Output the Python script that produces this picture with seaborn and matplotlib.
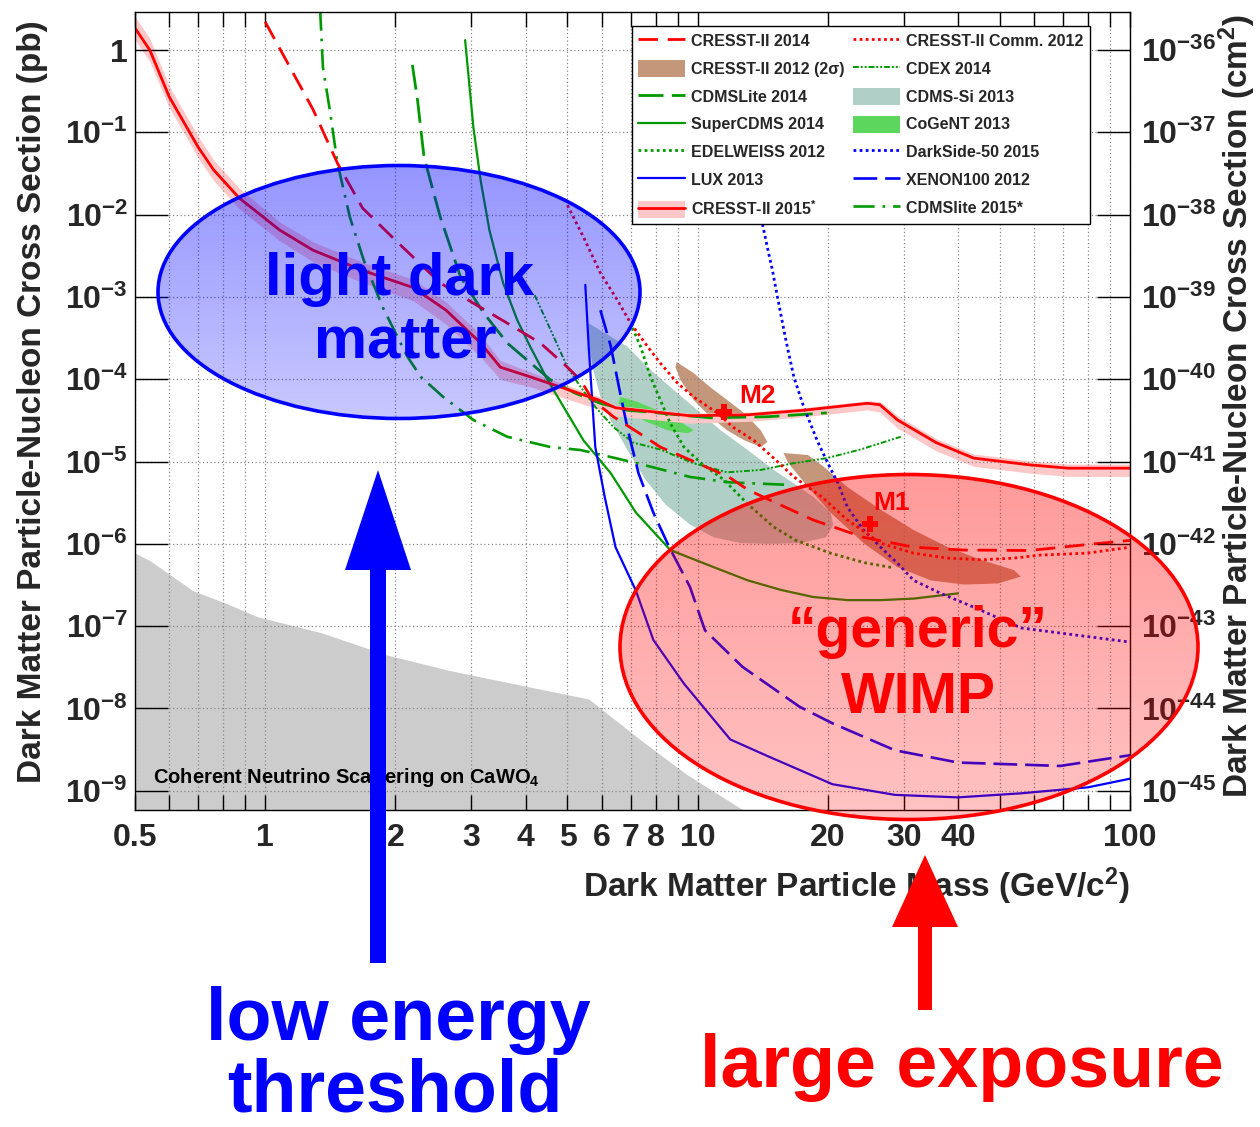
import numpy as np
import matplotlib
matplotlib.use("Agg")
import matplotlib.pyplot as plt
import seaborn as sns
from matplotlib.patches import Ellipse, FancyArrow, Patch
from matplotlib.lines import Line2D
from matplotlib.ticker import FixedLocator, FixedFormatter, NullFormatter

# ---- data (mass in GeV/c^2, cross section in pb) ----
cresst15_mass = [0.5, 0.541, 0.6, 0.7, 0.76, 0.87, 1.08, 1.29, 1.68, 2.2, 2.62, 3.14, 3.5, 4.1,
                 4.9, 5.9, 6.46, 9.6, 13.1, 17.6, 24.7, 26.4, 29, 35.6, 43.5, 58.7, 72, 100]
cresst15_sigma = [1.85, 1.0, 0.27, 0.066, 0.035, 0.016, 6.5e-3, 3.7e-3, 2.1e-3, 1.3e-3, 6.9e-4, 2.8e-4,
                  1.4e-4, 1.07e-4, 7.8e-5, 5.6e-5, 4.5e-5, 3.6e-5, 3.7e-5, 4.2e-5, 5.1e-5, 4.9e-5,
                  3.2e-5, 1.7e-5, 1.1e-5, 9.1e-6, 8.3e-6, 8.3e-6]
cresst15_band_up = [0.14, 0.14, 0.13, 0.13, 0.12, 0.12, 0.1, 0.1, 0.1, 0.1, 0.1, 0.1, 0.08, 0.06,
                    0.05, 0.04, 0.03, 0.03, 0.03, 0.03, 0.03, 0.04, 0.05, 0.05, 0.05, 0.05, 0.05, 0.05]
cresst15_band_lo = [0.14, 0.14, 0.13, 0.13, 0.13, 0.13, 0.13, 0.14, 0.15, 0.16, 0.17, 0.17, 0.15, 0.12,
                    0.12, 0.11, 0.10, 0.09, 0.08, 0.08, 0.08, 0.09, 0.1, 0.1, 0.1, 0.1, 0.1, 0.1]

cresst14_mass = [1.0, 1.29, 1.47, 1.68, 2.0, 2.54, 3.03, 3.63, 4.33, 5.0, 5.36, 5.72, 6.39, 7.34, 8.2,
                 9.6, 11.8, 13.1, 18.5, 24.2, 31.6, 41.3, 58.7, 79.5, 100]
cresst14_sigma = [2.2, 0.19, 0.042, 0.012, 4.9e-3, 1.48e-3, 8.4e-4, 4.8e-4, 2.75e-4, 1.4e-4, 9.8e-5,
                  5.6e-5, 3.5e-5, 2.2e-5, 1.5e-5, 1.05e-5, 6.5e-6, 4.5e-6, 1.95e-6, 1.2e-6, 9.1e-7,
                  8.4e-7, 8.3e-7, 9.8e-7, 1.1e-6]

comm12_mass = [5.0, 5.45, 5.96, 6.52, 7.0, 7.66, 8.2, 8.98, 9.79, 11.1, 12.1, 13.5, 15.0, 16.7, 19.4,
               22.2, 26.5, 31.6, 37.9, 45.2, 53.9, 62, 79.5, 100]
comm12_sigma = [0.013, 5.3e-3, 1.95e-3, 9.2e-4, 4.8e-4, 2.5e-4, 1.57e-4, 9e-5, 6.1e-5, 3.9e-5, 2.6e-5,
                1.8e-5, 1.1e-5, 6.5e-6, 3.7e-6, 1.95e-6, 1.02e-6, 7.7e-7, 6.7e-7, 6.4e-7, 6.7e-7,
                7.3e-7, 7.7e-7, 9.1e-7]

cdmslite14_mass = [2.19, 2.25, 2.33, 2.54, 2.83, 3.2, 3.63, 4.04, 4.57, 5.2, 5.96, 6.88, 8.08, 10.7,
                   14.5, 19.9]
cdmslite14_sigma = [0.66, 0.25, 0.05, 9.4e-3, 1.75e-3, 6.4e-4, 2.75e-4, 1.7e-4, 9.8e-5, 6.8e-5, 5.1e-5,
                    4.2e-5, 3.9e-5, 3.4e-5, 3.5e-5, 3.9e-5]

supercdms_mass = [2.9, 3.03, 3.15, 3.3, 3.55, 3.83, 4.1, 4.5, 4.9, 5.45, 6.3, 7.2, 8.65, 10.9, 13.06,
                  15.6, 18.5, 22.2, 26.5, 31.6, 40]
supercdms_sigma = [1.32, 0.116, 0.026, 6.5e-3, 1.48e-3, 5.2e-4, 2.5e-4, 9.8e-5, 4.6e-5, 1.8e-5, 7.2e-6,
                   2.4e-6, 8.4e-7, 5.2e-7, 3.6e-7, 2.75e-7, 2.26e-7, 2.07e-7, 2.07e-7, 2.16e-7, 2.5e-7]

cdmslite15_mass = [1.34, 1.36, 1.41, 1.47, 1.57, 1.69, 1.87, 2.13, 2.29, 2.58, 3.03, 3.63, 4.57, 5.36,
                   6.46, 7.9, 9.6, 11.8, 16.3]
cdmslite15_sigma = [3.1, 0.62, 0.19, 0.042, 9.3e-3, 2.8e-3, 7.5e-4, 1.9e-4, 1.07e-4, 6.1e-5, 3.2e-5,
                    2e-5, 1.5e-5, 1.38e-5, 1.1e-5, 8.5e-6, 6.5e-6, 5.6e-6, 5.2e-6]

edelweiss_mass = [7.07, 7.38, 7.78, 8.2, 8.65, 9.3, 10.2, 11.5, 13.1, 15.0, 16.9, 20.3, 24.3, 28.5]
edelweiss_sigma = [4.2e-4, 2.5e-4, 1.07e-4, 5.6e-5, 2.9e-5, 1.5e-5, 9.5e-6, 6e-6, 3e-6, 1.6e-6, 1.1e-6,
                   7.7e-7, 5.9e-7, 5.1e-7]

cdex_mass = [4.2, 4.57, 5.0, 5.36, 5.8, 6.4, 7.1, 8.2, 9.8, 11.7, 14.0, 16.6, 19.9, 23.8, 29.5]
cdex_sigma = [1.05e-3, 4e-4, 1.4e-4, 8.1e-5, 4.6e-5, 2.6e-5, 1.7e-5, 1.4e-5, 9.5e-6, 7.4e-6, 7.9e-6,
              9.5e-6, 1.1e-5, 1.4e-5, 2e-5]

lux_mass = [5.5, 5.6, 5.7, 5.8, 6.1, 6.46, 7.2, 7.9, 9.3, 11.9, 14.6, 20.5, 28.6, 40, 56, 80, 100]
lux_sigma = [1.4e-3, 2.5e-4, 6e-5, 1.5e-5, 3.7e-6, 9.1e-7, 2.7e-7, 6.8e-8, 2e-8, 4.2e-9, 2.6e-9, 1.2e-9,
             8.9e-10, 8.3e-10, 9.3e-10, 1.1e-9, 1.4e-9]

xenon_mass = [5.96, 6.3, 6.6, 6.9, 7.3, 7.9, 8.6, 9.6, 10.4, 12.7, 17.2, 20.5, 28.6, 40, 69, 100]
xenon_sigma = [6.9e-4, 2.5e-4, 7.4e-5, 2.4e-5, 7.2e-6, 2.4e-6, 9.1e-7, 3e-7, 8.9e-8, 3.2e-8, 1.05e-8,
               6.6e-9, 3.1e-9, 2.2e-9, 2e-9, 2.7e-9]

darkside_mass = [13.7, 14.1, 14.5, 14.9, 15.3, 16.0, 16.7, 17.6, 18.9, 20.0, 21.1, 22.2, 24.2, 26.5,
                 29.0, 31.6, 36.5, 43.5, 56, 100]
darkside_sigma = [0.05, 8.1e-3, 4.0e-3, 2.1e-3, 1e-3, 3.0e-4, 1.06e-4, 4.6e-5, 1.8e-5, 9.6e-6, 5.5e-6,
                  2.8e-6, 1.47e-6, 9.1e-7, 5.8e-7, 3.6e-7, 2.5e-7, 1.7e-7, 9.5e-8, 6.4e-8]

# contours of the allowed regions
cdmssi_mass = [5.59, 6.29, 6.88, 7.66, 8.66, 9.79, 11.3, 13.06, 15.0, 16.9, 18.55, 20.3, 20.6,
               19.8, 17.3, 14.75, 12.6, 10.9, 9.63, 8.43, 7.58, 6.88, 6.29, 5.96, 5.74, 5.59]
cdmssi_sigma = [4.8e-4, 3.3e-4, 2.5e-4, 1.4e-4, 8.0e-5, 4.6e-5, 2.4e-5, 1.38e-5, 7.9e-6, 5.2e-6, 3.7e-6,
                2.4e-6, 1.7e-6, 1.2e-6, 1.02e-6, 1.0e-6, 1.02e-6, 1.2e-6, 1.7e-6, 3.0e-6, 6.0e-6,
                1.38e-5, 3.2e-5, 6.1e-5, 1.3e-4, 3.0e-4]

cogent_mass = [6.63, 7.26, 8.08, 8.98, 9.79, 9.48, 8.52, 7.66, 6.88, 6.56]
cogent_sigma = [6.1e-5, 5.3e-5, 4.2e-5, 3.2e-5, 2.4e-5, 2.2e-5, 2.4e-5, 3.0e-5, 4.0e-5, 5.1e-5]

m2_blob_mass = [8.94, 9.79, 10.7, 11.7, 12.8, 14.0, 14.5, 14.0, 12.8, 11.7, 10.7, 9.79, 9.13, 8.89]
m2_blob_sigma = [1.62e-4, 1.19e-4, 8.0e-5, 5.6e-5, 3.9e-5, 2.4e-5, 1.73e-5, 1.5e-5, 1.82e-5, 2.4e-5,
                 3.5e-5, 5.6e-5, 9.8e-5, 1.4e-4]

m1_blob_mass = [15.8, 18.0, 19.6, 22.2, 26.5, 31.6, 37.9, 45.2, 53.9, 55.9, 49.5, 41.3, 34.6, 29.0,
                24.2, 20.3, 18.0, 16.2]
m1_blob_sigma = [1.27e-5, 1.2e-5, 8.6e-6, 4.9e-6, 2.6e-6, 1.47e-6, 9.1e-7, 6.4e-7, 4.8e-7, 4.0e-7,
                 3.3e-7, 3.2e-7, 3.6e-7, 5.2e-7, 1.02e-6, 2.4e-6, 4.9e-6, 9.6e-6]

best_fit_mass = [25.1, 11.5]
best_fit_sigma = [1.74e-6, 4.0e-5]
best_fit_names = ["M1", "M2"]

nu_mass = [0.5, 0.54, 0.68, 0.81, 0.96, 1.35, 1.9, 2.66, 3.75, 5.6, 7.4, 9.4, 12.7, 14.0]
nu_sigma = [7.7e-7, 6.3e-7, 2.7e-7, 1.9e-7, 1.3e-7, 8.3e-8, 4.5e-8, 2.9e-8, 2.0e-8, 1.3e-8, 4.1e-9,
            1.6e-9, 5.9e-10, 4e-10]

x_ticks = [0.5, 1, 2, 3, 4, 5, 6, 7, 8, 10, 20, 30, 40, 100]
x_tick_labels = ["0.5", "1", "2", "3", "4", "5", "6", "7", "8", "10", "20", "30", "40", "100"]
x_minor = [0.6, 0.7, 0.8, 0.9, 9, 50, 60, 70, 80, 90]
y_exponents = [0, -1, -2, -3, -4, -5, -6, -7, -8, -9]
y_exponents_cm = [-36, -37, -38, -39, -40, -41, -42, -43, -44, -45]

# ---- colours ----
RED = "#ff0000"
GREEN = "#009900"
BLUE = "#0000ff"
PINK = "#ffc8c8"
BROWN = "#c4967a"
TEAL = "#b0cfc6"
COGENT = "#5cd65c"

sns.set_theme(style="ticks")
plt.rcParams["font.family"] = ["Liberation Sans", "DejaVu Sans"]
plt.rcParams["font.weight"] = "bold"
plt.rcParams["mathtext.fontset"] = "custom"
plt.rcParams["mathtext.rm"] = "Liberation Sans:bold"
plt.rcParams["mathtext.bf"] = "Liberation Sans:bold"
plt.rcParams["mathtext.it"] = "Liberation Sans:bold"

W, H = 1260, 1127
fig = plt.figure(figsize=(W / 100, H / 100), dpi=100)
fig.patch.set_facecolor("white")


def fx(px):
    return px / W


def fy(py):
    return 1 - py / H


ax = fig.add_axes([fx(135), fy(810), (1130 - 135) / W, (810 - 12) / H])
ax.set_xscale("log")
ax.set_yscale("log")
ax.set_xlim(0.5, 100)
ax.set_ylim(5.83e-10, 2.9)
ax.set_facecolor("white")

# neutrino floor
ax.fill_between(nu_mass, nu_sigma, 1e-12, color="#cccccc", lw=0, zorder=1)

# allowed regions
ax.fill(cdmssi_mass, cdmssi_sigma, color=TEAL, lw=0, zorder=1.1)
ax.fill(cogent_mass, cogent_sigma, color=COGENT, lw=0, zorder=1.2)
ax.fill(m2_blob_mass, m2_blob_sigma, color=BROWN, lw=0, zorder=1.2)
ax.fill(m1_blob_mass, m1_blob_sigma, color=BROWN, lw=0, zorder=1.2)

# CRESST-II 2015 band
c15_s = np.array(cresst15_sigma)
ax.fill_between(cresst15_mass, c15_s * 10 ** np.array(cresst15_band_up),
                c15_s / 10 ** np.array(cresst15_band_lo), color=PINK, lw=0, zorder=1.3)


def curve(m, s, color, ls, lw=1.9):
    sns.lineplot(x=m, y=s, ax=ax, color=color, linestyle=ls, linewidth=lw,
                 sort=False, estimator=None, errorbar=None, legend=False, zorder=3)


DASH = (0, (7, 3.5))
LDASH = (0, (9, 3))
DOT = (0, (1, 1.2))
DASHDOT = (0, (8, 3, 1, 3))
DDOT = (0, (3, 1, 1, 1, 1, 1))

curve(edelweiss_mass, edelweiss_sigma, GREEN, DOT, 2.0)
curve(cdex_mass, cdex_sigma, GREEN, DDOT, 1.4)
curve(cdmslite15_mass, cdmslite15_sigma, GREEN, DASHDOT, 1.9)
curve(cdmslite14_mass, cdmslite14_sigma, GREEN, LDASH, 2.0)
curve(supercdms_mass, supercdms_sigma, GREEN, "-", 1.6)
curve(darkside_mass, darkside_sigma, BLUE, DOT, 2.0)
curve(xenon_mass, xenon_sigma, BLUE, LDASH, 1.9)
curve(lux_mass, lux_sigma, BLUE, "-", 1.6)
curve(comm12_mass, comm12_sigma, RED, DOT, 2.0)
curve(cresst14_mass, cresst14_sigma, RED, DASH, 2.0)
curve(cresst15_mass, cresst15_sigma, RED, "-", 2.0)

# best fit points
ax.plot(best_fit_mass, best_fit_sigma, linestyle="none", marker="P", ms=11,
        color=RED, mec=RED, mew=0, zorder=4)
label_offsets = [(2, 10), (11, 6.5)]
for m, s, name, off in zip(best_fit_mass, best_fit_sigma, best_fit_names, label_offsets):
    ax.annotate(name, (m, s), xytext=off, textcoords="offset points",
                color=RED, fontsize=19, fontweight="bold", zorder=4)

ax.text(0.018, 0.034, r"Coherent Neutrino Scattering on CaWO$_4$", transform=ax.transAxes,
        fontsize=14.5, fontweight="bold", color="black", zorder=4)

# axes, ticks, grid
ax.xaxis.set_major_locator(FixedLocator(x_ticks))
ax.xaxis.set_major_formatter(FixedFormatter(x_tick_labels))
ax.xaxis.set_minor_locator(FixedLocator(x_minor))
ax.xaxis.set_minor_formatter(NullFormatter())
ax.yaxis.set_major_locator(FixedLocator([10.0 ** e for e in y_exponents]))
ax.yaxis.set_major_formatter(FixedFormatter(
    ["1" if e == 0 else r"$10^{%d}$" % e for e in y_exponents]))
ax.yaxis.set_minor_formatter(NullFormatter())

ax.tick_params(axis="x", which="both", direction="in", top=True, length=11, width=1,
               labelsize=23, pad=9, color="black")
ax.tick_params(axis="y", which="major", direction="in", length=24, width=1,
               labelsize=23, pad=5, color="black")
ax.tick_params(axis="y", which="minor", direction="in", length=12, width=0.8, color="black")
for lab in ax.get_xticklabels() + ax.get_yticklabels():
    lab.set_fontweight("bold")

ax.set_axisbelow("line")
ax.grid(True, which="both", axis="x", linestyle=(0, (1, 2)), color="#888888", lw=0.9)
ax.grid(True, which="major", axis="y", linestyle=(0, (1, 2)), color="#888888", lw=0.9)
for sp in ax.spines.values():
    sp.set_color("black")
    sp.set_linewidth(1.0)
    sp.set_zorder(5)

ax2 = ax.twinx()
ax2.set_yscale("log")
lo, hi = ax.get_ylim()
ax2.set_ylim(lo * 1e-36, hi * 1e-36)
ax2.yaxis.set_major_locator(FixedLocator([10.0 ** e for e in y_exponents_cm]))
ax2.yaxis.set_major_formatter(FixedFormatter([r"$10^{%d}$" % e for e in y_exponents_cm]))
ax2.yaxis.set_minor_formatter(NullFormatter())
ax2.tick_params(axis="y", which="major", direction="in", length=24, width=1,
                labelsize=23, pad=8, color="black")
ax2.tick_params(axis="y", which="minor", direction="in", length=12, width=0.8, color="black")
for sp in ax2.spines.values():
    sp.set_visible(False)

fig.text(fx(1130), fy(897), r"Dark Matter Particle Mass (GeV/c$^2$)", ha="right", va="baseline",
         fontsize=24, fontweight="bold")
fig.text(fx(33), fy(402), "Dark Matter Particle-Nucleon Cross Section (pb)", rotation=90,
         ha="center", va="center", fontsize=24, fontweight="bold")
fig.text(fx(1237), fy(406), r"Dark Matter Particle-Nucleon Cross Section (cm$^2$)", rotation=90,
         ha="center", va="center", fontsize=24, fontweight="bold")

# legend (column-major order)
handles = [
    Line2D([], [], color=RED, ls=DASH, lw=2.0),
    Patch(facecolor=BROWN, edgecolor="none"),
    Line2D([], [], color=GREEN, ls=LDASH, lw=2.0),
    Line2D([], [], color=GREEN, ls="-", lw=1.6),
    Line2D([], [], color=GREEN, ls=DOT, lw=2.0),
    Line2D([], [], color=BLUE, ls="-", lw=1.6),
    (Patch(facecolor=PINK, edgecolor="none"), Line2D([], [], color=RED, lw=2.0)),
    Line2D([], [], color=RED, ls=DOT, lw=2.0),
    Line2D([], [], color=GREEN, ls=DDOT, lw=1.4),
    Patch(facecolor=TEAL, edgecolor="none"),
    Patch(facecolor=COGENT, edgecolor="none"),
    Line2D([], [], color=BLUE, ls=DOT, lw=2.0),
    Line2D([], [], color=BLUE, ls=LDASH, lw=1.9),
    Line2D([], [], color=GREEN, ls=DASHDOT, lw=1.9),
]
labels = ["CRESST-II 2014", "CRESST-II 2012 (2σ)", "CDMSLite 2014", "SuperCDMS 2014",
          "EDELWEISS 2012", "LUX 2013", r"CRESST-II 2015$^{*}$",
          "CRESST-II Comm. 2012", "CDEX 2014", "CDMS-Si 2013", "CoGeNT 2013",
          "DarkSide-50 2015", "XENON100 2012", "CDMSlite 2015*"]
leg = ax.legend(handles, labels, ncol=2, loc="upper left",
                bbox_to_anchor=(fx(632), fy(26)), bbox_transform=fig.transFigure,
                borderaxespad=0, frameon=True, fancybox=False,
                edgecolor="black", framealpha=1, handlelength=2.9, handleheight=1.25,
                handletextpad=0.4, labelspacing=0.68, columnspacing=0.55, borderpad=0.4,
                prop={"weight": "bold", "size": 11.5})
leg.get_frame().set_linewidth(1.0)
leg.set_zorder(20)

# ---- overlay: ellipses, arrows and big labels ----
ov = fig.add_axes([0, 0, 1, 1], zorder=10)
ov.set_xlim(0, W)
ov.set_ylim(H, 0)
ov.axis("off")
ov.patch.set_visible(False)


def gradient_ellipse(cx, cy, w, h, rgb, a_top, a_bot, edge):
    e = Ellipse((cx, cy), w, h, facecolor="none", edgecolor=edge, lw=2.6, zorder=3)
    ov.add_patch(e)
    img = np.zeros((200, 1, 4))
    img[..., :3] = rgb
    img[:, 0, 3] = np.linspace(a_top, a_bot, 200)
    im = ov.imshow(img, extent=(cx - w / 2, cx + w / 2, cy + h / 2, cy - h / 2),
                   aspect="auto", interpolation="bilinear", zorder=2)
    im.set_clip_path(e)


gradient_ellipse(399, 292, 482, 253, (0, 0, 1), 0.42, 0.22, BLUE)
gradient_ellipse(909, 647, 578, 345, (1, 0, 0), 0.40, 0.24, RED)
ov.set_xlim(0, W)
ov.set_ylim(H, 0)

ov.add_patch(FancyArrow(378, 963, 0, -493, width=16, head_width=66, head_length=100,
                        length_includes_head=True, color=BLUE, lw=0, zorder=4))
ov.add_patch(FancyArrow(925, 1010, 0, -155, width=14, head_width=66, head_length=72,
                        length_includes_head=True, color=RED, lw=0, zorder=4))

ov.text(400, 295, "light dark", color=BLUE, fontsize=43, fontweight="bold",
        ha="center", va="baseline", zorder=5)
ov.text(405, 358, "matter", color=BLUE, fontsize=43, fontweight="bold",
        ha="center", va="baseline", zorder=5)
ov.text(918, 647, "\u201cgeneric\u201d", color=RED, fontsize=41, fontweight="bold",
        ha="center", va="baseline", zorder=5)
ov.text(918, 713, "WIMP", color=RED, fontsize=41, fontweight="bold",
        ha="center", va="baseline", zorder=5)
ov.text(398, 1040, "low energy", color=BLUE, fontsize=53, fontweight="bold",
        ha="center", va="baseline", zorder=5)
ov.text(395, 1126, "threshold", color=BLUE, fontsize=53, fontweight="bold",
        ha="center", va="bottom", zorder=5)
ov.text(962, 1087, "large exposure", color=RED, fontsize=53, fontweight="bold",
        ha="center", va="baseline", zorder=5)

fig.savefig("out.png", dpi=100, facecolor="white")
